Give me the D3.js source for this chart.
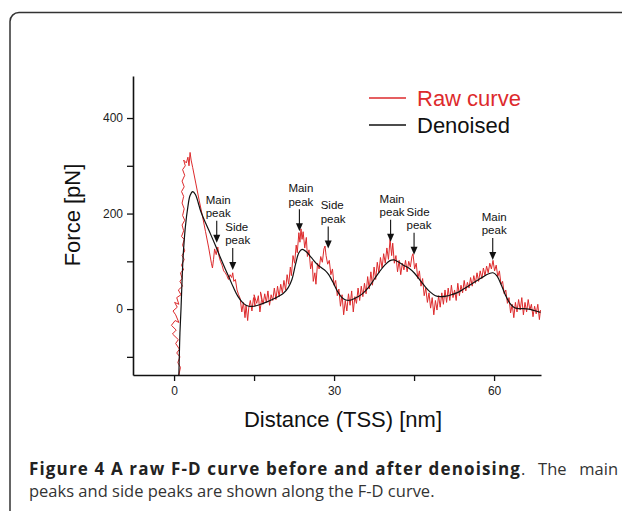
<!DOCTYPE html>
<html>
<script src="https://d3js.org/d3.v7.min.js"></script>

<head>
    <style>
        body {
            margin: 0;
            background-color: #ffffff;
            font-family: Arial, "Liberation Sans", Helvetica, sans-serif;
        }

        svg {
            display: block;
        }

        .caption {
            font-family: "Open Sans", sans-serif;
            fill: #333;
        }
    </style>
</head>

<body>
    <div id="vis"></div>
</body>
<script>
    // [distance nm, force pN]
    const rawCurve = [
        [0.9, -138], [1.2, -122], [0.7, -112], [1.1, -100], [0.5, -92], [1.0, -84], [0.3, -72], [0.8, -64],
        [-0.3, -52], [0.4, -44], [-0.5, -34], [0.2, -24], [0.9, -28], [0.3, -12], [-0.2, -4], [0.6, 4],
        [0.1, 14], [0.9, 10], [0.5, 24], [1.3, 30], [0.8, 40], [1.6, 48], [1.1, 58], [1.5, 64], [1.2, 76],
        [1.8, 82], [1.4, 92], [1.9, 104], [1.5, 112], [2.0, 122], [1.6, 134], [1.9, 146], [1.4, 152],
        [1.8, 164], [1.5, 176], [2.0, 186], [1.6, 196], [1.9, 210], [1.5, 222], [1.8, 236], [1.4, 246],
        [1.9, 256], [1.5, 268], [2.0, 280], [1.6, 292], [2.1, 300], [1.8, 312], [2.3, 306], [2.6, 318],
        [2.8, 300], [3.0, 328], [3.2, 312], [3.5, 296], [4.1, 262], [4.7, 228], [5.3, 196], [5.9, 162],
        [6.5, 128], [7.0, 96], [7.2, 86], [7.4, 104], [7.6, 126], [7.9, 114], [8.2, 130], [8.4, 112],
        [8.7, 100], [9.0, 92], [9.3, 80], [9.6, 76], [9.9, 70], [10.2, 62], [10.5, 72], [10.8, 66],
        [11.0, 76], [11.2, 58], [11.5, 62], [11.8, 40], [12.1, 30], [12.4, 22], [12.7, -6], [13.0, 14],
        [13.3, -18], [13.5, 8], [13.8, -24], [14.0, 2], [14.3, 18], [14.6, -4], [14.9, 24], [15.2, 6],
        [15.0, 30], [15.5, 12], [15.8, 28], [16.1, -6], [16.4, 20], [16.2, 36], [16.7, 10], [17.0, 32],
        [17.3, 14], [17.6, 38], [17.9, 8], [18.2, 30], [18.5, 18], [18.8, 44], [19.1, 20], [19.4, 48],
        [19.7, 26], [20.0, 52], [20.3, 34], [20.6, 60], [20.9, 40], [21.2, 72], [21.5, 52], [21.8, 88],
        [22.0, 70], [22.3, 112], [22.6, 96], [22.9, 134], [23.1, 118], [23.4, 160], [23.6, 140], [23.8, 168],
        [24.0, 146], [24.2, 162], [24.5, 128], [24.8, 150], [25.0, 110], [25.3, 124], [25.6, 84], [25.9, 100],
        [26.1, 58], [26.4, 76], [26.6, 52], [26.9, 96], [27.2, 84], [27.5, 110], [27.8, 98], [28.1, 126],
        [28.3, 132], [28.5, 112], [28.8, 94], [29.1, 102], [29.4, 72], [29.7, 84], [30.0, 50], [30.3, 60],
        [30.6, 28], [30.9, 42], [31.2, 6], [31.5, 30], [31.8, -12], [32.1, 18], [32.4, -4], [32.7, 32],
        [33.0, 8], [33.3, 38], [33.6, -6], [33.9, 26], [34.2, 12], [34.5, 44], [34.8, 18], [35.1, 48],
        [35.4, 26], [35.7, 54], [36.0, 32], [36.3, 68], [36.6, 42], [36.9, 78], [37.2, 50], [37.5, 88],
        [37.8, 62], [38.1, 98], [38.4, 76], [38.7, 108], [39.0, 86], [39.3, 116], [39.6, 96], [39.9, 128],
        [40.2, 104], [40.5, 146], [40.8, 112], [41.0, 138], [41.3, 96], [41.6, 112], [41.9, 78], [42.2, 102],
        [42.5, 72], [42.8, 96], [43.1, 82], [43.4, 102], [43.7, 78], [44.0, 100], [44.3, 88], [44.6, 110],
        [44.8, 116], [45.1, 84], [45.4, 96], [45.7, 64], [46.0, 80], [46.3, 48], [46.6, 64], [46.9, 28],
        [47.2, 44], [47.5, 14], [47.8, 34], [48.1, 2], [48.4, 24], [48.7, -12], [49.0, 18], [49.3, -2],
        [49.6, 28], [49.9, 4], [50.2, 34], [50.5, 10], [50.8, 40], [51.1, 14], [51.4, 44], [51.7, 18],
        [52.0, 50], [52.3, 24], [52.6, 40], [52.9, 18], [53.2, 54], [53.5, 28], [53.8, 50], [54.1, 34],
        [54.4, 60], [54.7, 38], [55.0, 56], [55.3, 44], [55.6, 66], [55.9, 48], [56.2, 70], [56.5, 54],
        [56.8, 76], [57.1, 58], [57.4, 80], [57.7, 64], [58.0, 86], [58.3, 70], [58.6, 90], [58.9, 76],
        [59.2, 96], [59.5, 84], [59.8, 102], [60.1, 80], [60.4, 92], [60.7, 68], [61.0, 80], [61.3, 52],
        [61.6, 58], [61.9, 32], [62.2, 40], [62.5, 12], [62.8, 24], [63.1, -8], [63.4, 10], [63.7, -18],
        [64.0, 14], [64.3, -6], [64.6, 20], [64.9, -2], [65.2, 24], [65.5, -12], [65.8, 14], [66.1, -6],
        [66.4, 20], [66.7, -2], [67.0, 10], [67.3, -16], [67.6, 6], [67.9, -10], [68.2, 10], [68.5, -22],
        [68.7, -2]
    ];

    const denoisedCurve = [
        [0.9, -138], [1.0, -90], [1.1, -50], [1.3, 0], [1.5, 60], [1.7, 110], [2.1, 170], [2.6, 215],
        [3.0, 238], [3.5, 246], [4.0, 240], [5.0, 205], [6.0, 178], [6.8, 158], [7.8, 132], [8.6, 110],
        [9.6, 84], [10.4, 64], [11.1, 46], [12.0, 26], [13.0, 12], [14.0, 6], [15.0, 6], [16.0, 9],
        [17.4, 15], [18.8, 22], [20.5, 33], [21.4, 45], [22.1, 62], [22.8, 95], [23.4, 118], [24.0, 125],
        [24.8, 120], [25.8, 107], [26.8, 94], [27.7, 86], [28.4, 80], [29.0, 72], [29.8, 56], [30.6, 38],
        [31.4, 25], [32.2, 19], [33.2, 19], [34.5, 26], [35.5, 34], [36.5, 46], [37.5, 62], [38.5, 78],
        [39.5, 92], [40.4, 101], [41.2, 103], [42.0, 99], [43.0, 92], [44.0, 86], [45.0, 76], [46.0, 62],
        [47.0, 48], [48.0, 36], [49.0, 28], [50.0, 26], [51.0, 27], [52.0, 30], [53.0, 34], [54.0, 40],
        [55.0, 47], [56.0, 54], [57.0, 61], [58.0, 68], [59.0, 74], [59.8, 76], [60.5, 70], [61.3, 52],
        [62.1, 30], [62.9, 13], [63.7, 4], [64.5, 1], [65.5, 1], [66.5, 0], [67.5, -3], [68.7, -7]
    ];

    const xTicks = [0, 15, 30, 45, 60];
    const xTickLabels = [0, 30, 60];
    const yTicks = [-100, 0, 100, 200, 300, 400];
    const yTickLabels = [0, 200, 400];

    const seriesNames = ["Raw curve", "Denoised"];
    const seriesColors = ["#dd2a2c", "#111111"];

    // peak markers: distance, force at arrow tip, label
    const peakNotes = [
        { d: 8.0, f: 139, kind: "Main" },
        { d: 11.0, f: 82, kind: "Side" },
        { d: 23.5, f: 163, kind: "Main" },
        { d: 28.9, f: 127, kind: "Side" },
        { d: 40.6, f: 141, kind: "Main" },
        { d: 45.0, f: 114, kind: "Side" },
        { d: 59.75, f: 103, kind: "Main" }
    ];

    const captionBold = "Figure 4 A raw F-D curve before and after denoising";
    const captionRest = ". The main";
    const captionLine2 = "peaks and side peaks are shown along the F-D curve.";

    const width = 622,
        height = 511;
    const svg = d3.select("#vis").append("svg").attr("width", width).attr("height", height);

    // figure frame, runs off the right and bottom edge
    svg.append("rect")
        .attr("x", 10).attr("y", 12.5)
        .attr("width", 700).attr("height", 600)
        .attr("rx", 9)
        .attr("fill", "none")
        .attr("stroke", "#333")
        .attr("stroke-width", 1.5);

    const x = d3.scaleLinear().domain([-7.7, 68.8]).range([133, 541]);
    const y = d3.scaleLinear().domain([-138, 488]).range([375, 76]);

    svg.append("clipPath").attr("id", "plotclip")
        .append("rect")
        .attr("x", 133).attr("y", 76)
        .attr("width", 408).attr("height", 299);

    const line = d3.line().x(d => x(d[0])).y(d => y(d[1]));
    const smooth = d3.line().x(d => x(d[0])).y(d => y(d[1])).curve(d3.curveCatmullRom);

    const plot = svg.append("g").attr("clip-path", "url(#plotclip)");
    plot.append("path")
        .attr("d", line(rawCurve))
        .attr("fill", "none")
        .attr("stroke", seriesColors[0])
        .attr("stroke-width", 1)
        .attr("stroke-linejoin", "round");
    plot.append("path")
        .attr("d", smooth(denoisedCurve))
        .attr("fill", "none")
        .attr("stroke", seriesColors[1])
        .attr("stroke-width", 1.2);

    // axes
    const xAxis = d3.axisBottom(x)
        .tickValues(xTicks)
        .tickSize(6)
        .tickSizeOuter(0)
        .tickPadding(5)
        .tickFormat(d => xTickLabels.includes(d) ? d : "");
    const yAxis = d3.axisLeft(y)
        .tickValues(yTicks)
        .tickSize(6)
        .tickSizeOuter(0)
        .tickPadding(4)
        .tickFormat(d => yTickLabels.includes(d) ? d : "");

    const gx = svg.append("g").attr("transform", "translate(0,375)").call(xAxis);
    const gy = svg.append("g").attr("transform", "translate(133,0)").call(yAxis);
    [gx, gy].forEach(g => {
        g.attr("font-size", 12).attr("font-family", "Arial, 'Liberation Sans', sans-serif");
        g.select(".domain").attr("stroke", "#111").attr("stroke-width", 1.6);
        g.selectAll(".tick line").attr("stroke", "#111").attr("stroke-width", 1.3);
        g.selectAll(".tick text").attr("fill", "#222");
    });

    svg.append("text")
        .attr("transform", "translate(80,215) rotate(-90)")
        .attr("text-anchor", "middle")
        .attr("font-size", 22)
        .attr("fill", "#111")
        .text("Force [pN]");
    svg.append("text")
        .attr("x", 343).attr("y", 427)
        .attr("text-anchor", "middle")
        .attr("font-size", 22)
        .attr("fill", "#111")
        .text("Distance (TSS) [nm]");

    // legend
    const legend = svg.append("g").attr("transform", "translate(369,98)");
    seriesNames.forEach((name, i) => {
        legend.append("line")
            .attr("x1", 0).attr("x2", 37)
            .attr("y1", i * 27).attr("y2", i * 27)
            .attr("stroke", seriesColors[i])
            .attr("stroke-width", 1.6);
        legend.append("text")
            .attr("x", 48).attr("y", i * 27 + 8)
            .attr("font-size", 22)
            .attr("fill", seriesColors[i])
            .text(name);
    });

    // peak arrows
    const notes = svg.append("g");
    peakNotes.forEach(p => {
        const px = x(p.d), py = y(p.f);
        const tx = px - (p.kind === "Main" ? 11 : 7.5);
        const t = notes.append("text")
            .attr("font-size", 11.5)
            .attr("fill", "#111");
        t.append("tspan").attr("x", tx).attr("y", py - 39).text(p.kind);
        t.append("tspan").attr("x", tx).attr("y", py - 25.5).text("peak");
        notes.append("line")
            .attr("x1", px).attr("x2", px)
            .attr("y1", py - 22).attr("y2", py - 6)
            .attr("stroke", "#111")
            .attr("stroke-width", 1.1);
        notes.append("path")
            .attr("d", `M${px},${py} L${px - 3.5},${py - 8} L${px + 3.5},${py - 8} Z`)
            .attr("fill", "#111");
    });

    // caption: widen the bold title to its span in the figure, then justify line 1
    const cap1 = svg.append("text").attr("class", "caption")
        .attr("x", 29).attr("y", 475).attr("font-size", 16.5);
    const boldPart = cap1.append("tspan")
        .attr("font-weight", "bold").attr("font-size", 17).attr("fill", "#222")
        .text(captionBold);
    const restPart = cap1.append("tspan").text(captionRest);
    const boldLen = boldPart.node().getComputedTextLength();
    boldPart.style("letter-spacing", Math.max(0, (492 - boldLen) / captionBold.length) + "px");
    const restLen = restPart.node().getComputedTextLength();
    const used = boldPart.node().getComputedTextLength() + restLen;
    restPart.style("word-spacing", Math.max(0, (618 - 29 - used) / 2) + "px");

    svg.append("text").attr("class", "caption")
        .attr("x", 29).attr("y", 497).attr("font-size", 16.5)
        .text(captionLine2);
</script>

</html>
